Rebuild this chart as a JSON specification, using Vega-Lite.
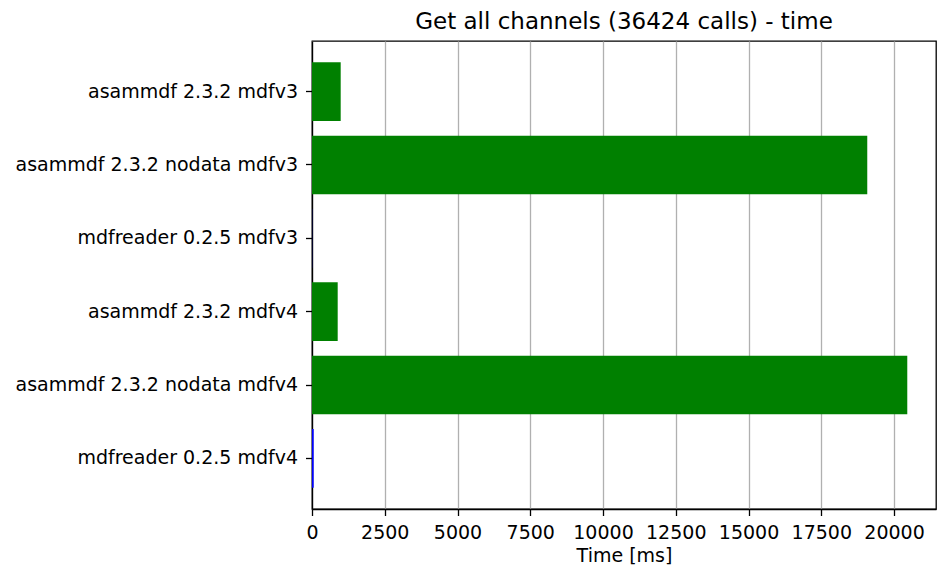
{
  "$schema": "https://vega.github.io/schema/vega-lite/v6.json",
  "autosize": "none",
  "width": 624,
  "height": 468,
  "padding": {"left": 312, "top": 41, "right": 2, "bottom": 60},
  "background": "white",
  "title": {
    "text": "Get all channels (36424 calls) - time",
    "font": "DejaVu Sans",
    "fontSize": 23,
    "fontWeight": "normal",
    "color": "black",
    "anchor": "middle",
    "baseline": "alphabetic",
    "offset": 0,
    "dy": 11
  },
  "config": {
    "font": "DejaVu Sans",
    "view": {"stroke": "black", "strokeWidth": 1.3}
  },
  "data": {
    "values": [
      {"name": "asammdf 2.3.2 mdfv3", "library": "asammdf", "time": 986},
      {"name": "asammdf 2.3.2 nodata mdfv3", "library": "asammdf", "time": 19081},
      {"name": "mdfreader 0.2.5 mdfv3", "library": "mdfreader", "time": 5},
      {"name": "asammdf 2.3.2 mdfv4", "library": "asammdf", "time": 883},
      {"name": "asammdf 2.3.2 nodata mdfv4", "library": "asammdf", "time": 20456},
      {"name": "mdfreader 0.2.5 mdfv4", "library": "mdfreader", "time": 58}
    ]
  },
  "mark": {"type": "bar"},
  "encoding": {
    "y": {
      "field": "name",
      "type": "nominal",
      "sort": null,
      "scale": {"paddingInner": 0.2, "paddingOuter": 0.29},
      "axis": {
        "title": null,
        "labelFontSize": 19,
        "labelColor": "black",
        "labelPadding": 8,
        "tickSize": 6.5,
        "tickColor": "black",
        "tickWidth": 1.3,
        "domainColor": "black",
        "domainWidth": 1.3,
        "labelLimit": 400
      }
    },
    "x": {
      "field": "time",
      "type": "quantitative",
      "scale": {"domain": [0, 21443], "nice": false},
      "axis": {
        "title": "Time [ms]",
        "titleFontSize": 19,
        "titleFontWeight": "normal",
        "titleColor": "black",
        "titlePadding": 4,
        "format": "d",
        "values": [0, 2500, 5000, 7500, 10000, 12500, 15000, 17500, 20000],
        "labelFontSize": 19,
        "labelColor": "black",
        "labelPadding": 8,
        "labelFlush": false,
        "tickSize": 6.5,
        "tickColor": "black",
        "tickWidth": 1.3,
        "domainColor": "black",
        "domainWidth": 1.3,
        "grid": true,
        "gridColor": "#b0b0b0",
        "gridWidth": 1.3
      }
    },
    "color": {
      "field": "library",
      "type": "nominal",
      "scale": {"domain": ["asammdf", "mdfreader"], "range": ["#008000", "#0000ff"]},
      "legend": null
    }
  }
}
